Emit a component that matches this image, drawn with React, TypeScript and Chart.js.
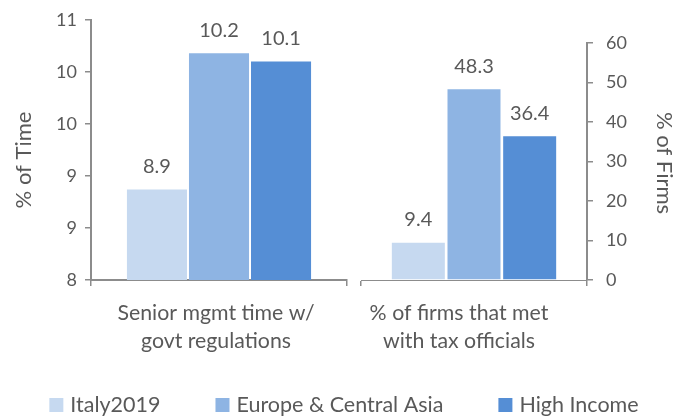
import React, { useEffect, useRef } from "react";
import { Chart, registerables } from "chart.js";

Chart.register(...registerables);

// ---- data ----
const seriesNames = ["Italy2019", "Europe & Central Asia", "High Income"];
const seriesColors = ["#C6D9F0", "#8EB4E3", "#558ED5"];

const leftCategories = [["Senior mgmt time w/", "govt regulations"]];
const leftValues = [8.87, 10.18, 10.1];
const leftAxisTitle = "% of Time";
const leftAxisMin = 8;
const leftAxisMax = 10.5;
const leftAxisStep = 0.5;

const rightCategories = [["% of firms that met", "with tax officials"]];
const rightValues = [9.4, 48.3, 36.4];
const rightAxisTitle = "% of Firms";
const rightAxisMin = 0;
const rightAxisMax = 60;
const rightAxisStep = 10;

// ---- style ----
const FONT = "Lato, 'Open Sans', sans-serif";
const TEXT = "#595959";
const AXIS = "#8c8c8c";
const W = 682;
const H = 416;

const valueLabels = {
  id: "valueLabels",
  afterDatasetsDraw(chart: any) {
    const ctx = chart.ctx;
    ctx.save();
    ctx.font = `20px ${FONT}`;
    ctx.fillStyle = TEXT;
    ctx.textAlign = "center";
    ctx.textBaseline = "middle";
    chart.data.datasets.forEach((ds: any, i: number) => {
      const meta = chart.getDatasetMeta(i);
      meta.data.forEach((el: any, j: number) => {
        const v = ds.data[j] as number;
        ctx.fillText(v.toFixed(1), el.x, el.y - 23);
      });
    });
    ctx.restore();
  },
};

const decorations = {
  id: "decorations",
  afterDraw(chart: any) {
    const ctx = chart.ctx;
    ctx.save();
    // axis titles
    ctx.font = `22px ${FONT}`;
    ctx.fillStyle = TEXT;
    ctx.textAlign = "center";
    ctx.textBaseline = "middle";
    ctx.save();
    ctx.translate(24, 160);
    ctx.rotate(-Math.PI / 2);
    ctx.fillText(leftAxisTitle, 0, 0);
    ctx.restore();
    ctx.save();
    ctx.translate(664, 163);
    ctx.rotate(Math.PI / 2);
    ctx.fillText(rightAxisTitle, 0, 0);
    ctx.restore();

    // legend
    ctx.font = `21.5px ${FONT}`;
    ctx.textAlign = "left";
    ctx.textBaseline = "alphabetic";
    const box = 14;
    const gapText = 7;
    const gapItem = 55;
    const widths = seriesNames.map((n) => ctx.measureText(n).width);
    const total =
      widths.reduce((a, w) => a + box + gapText + w, 0) + gapItem * (seriesNames.length - 1);
    let x = 344 - total / 2;
    seriesNames.forEach((name, i) => {
      ctx.fillStyle = seriesColors[i];
      ctx.fillRect(x, 398, box, box);
      ctx.fillStyle = TEXT;
      ctx.fillText(name, x + box + gapText, 412);
      x += box + gapText + widths[i] + gapItem;
    });
    ctx.restore();
  },
};

function makeDatasets(values: number[], catPct: number, barPct: number) {
  return seriesNames.map((name, i) => ({
    label: name,
    data: [values[i]],
    backgroundColor: seriesColors[i],
    borderWidth: 0,
    categoryPercentage: catPct,
    barPercentage: barPct,
  }));
}

export default function App() {
  const leftRef = useRef<HTMLCanvasElement>(null);
  const rightRef = useRef<HTMLCanvasElement>(null);

  useEffect(() => {
    const left = new Chart(leftRef.current!, {
      type: "bar",
      data: {
        labels: leftCategories as any,
        datasets: makeDatasets(leftValues, 0.727, 0.968) as any,
      },
      options: {
        responsive: false,
        animation: false,
        layout: { padding: { top: 20, right: W - 347, left: 0, bottom: 0 } },
        plugins: { legend: { display: false }, tooltip: { enabled: false } },
        scales: {
          x: {
            grid: {
              display: true,
              drawOnChartArea: false,
              drawTicks: true,
              tickLength: 6,
              color: AXIS,
              lineWidth: 1.5,
              offset: true,
            },
            border: { display: true, color: AXIS, width: 2 },
            ticks: {
              color: TEXT,
              font: { family: FONT, size: 21.3, lineHeight: 1.31 },
              padding: 13,
              labelOffset: -3,
              maxRotation: 0,
              autoSkip: false,
            },
            afterFit: (s: any) => {
              s.height = H - 280;
            },
          },
          y: {
            min: leftAxisMin,
            max: leftAxisMax,
            ticks: {
              stepSize: leftAxisStep,
              callback: (v: any) => String(Math.round(Number(v))),
              color: TEXT,
              font: { family: FONT, size: 18 },
              padding: 8,
            },
            grid: {
              drawOnChartArea: false,
              drawTicks: true,
              tickLength: 6,
              color: AXIS,
              lineWidth: 1.5,
            },
            border: { display: true, color: AXIS, width: 2 },
            afterFit: (s: any) => {
              s.width = 91;
            },
          },
        },
      },
      plugins: [valueLabels, decorations],
    });

    const right = new Chart(rightRef.current!, {
      type: "bar",
      data: {
        labels: rightCategories as any,
        datasets: makeDatasets(rightValues, 0.739, 0.952) as any,
      },
      options: {
        responsive: false,
        animation: false,
        layout: { padding: { top: 43, right: 0, left: 6, bottom: 0 } },
        plugins: { legend: { display: false }, tooltip: { enabled: false } },
        scales: {
          x: {
            grid: {
              display: true,
              drawOnChartArea: false,
              drawTicks: true,
              tickLength: 6,
              color: AXIS,
              lineWidth: 1.5,
              offset: true,
            },
            border: { display: true, color: AXIS, width: 1 },
            ticks: {
              color: TEXT,
              font: { family: FONT, size: 21.3, lineHeight: 1.31 },
              padding: 13,
              labelOffset: -15,
              maxRotation: 0,
              autoSkip: false,
            },
            afterFit: (s: any) => {
              s.height = 370 - 280;
            },
          },
          y: {
            position: "right",
            min: rightAxisMin,
            max: rightAxisMax,
            ticks: {
              stepSize: rightAxisStep,
              color: TEXT,
              font: { family: FONT, size: 18 },
              padding: 13,
            },
            grid: {
              drawOnChartArea: false,
              drawTicks: true,
              tickLength: 6,
              color: AXIS,
              lineWidth: 1.5,
            },
            border: { display: true, color: AXIS, width: 2 },
            afterFit: (s: any) => {
              s.width = 95;
            },
          },
        },
      },
      plugins: [valueLabels],
    });

    return () => {
      left.destroy();
      right.destroy();
    };
  }, []);

  return (
    <div
      style={{
        position: "fixed",
        left: 0,
        top: 0,
        width: W,
        height: H,
        background: "#ffffff",
        overflow: "hidden",
      }}
    >
      <canvas
        ref={leftRef}
        width={W}
        height={H}
        style={{ position: "absolute", left: 0, top: 0, width: W, height: H }}
      />
      <canvas
        ref={rightRef}
        width={327}
        height={370}
        style={{ position: "absolute", left: 355, top: 0, width: 327, height: 370 }}
      />
    </div>
  );
}
